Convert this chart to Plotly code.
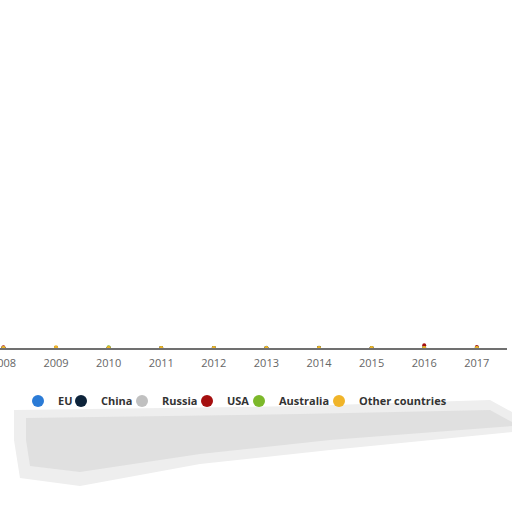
import plotly.graph_objects as go

# years along the x axis
years = [2008, 2009, 2010, 2011, 2012, 2013, 2014, 2015, 2016, 2017]

# series values (all sit close to zero on the visible axis)
eu = [0, 0, 0, 0, 0, 0.1, 0, 0, 0, 0]
china = [0, 0, 0, 0, 0, 0, 0.1, 0, 0, 0]
russia = [0, 0, 0, 0, 0, 0, 0, 0, 0, 0]
usa = [0.2, 0, 0, 0, 0, 0, 0, 0, 0.8, 0.3]
australia = [0, 0, 0.2, 0, 0, 0, 0, 0, 0, 0]
other = [0, 0.2, 0, 0, 0, 0, 0, 0, 0, 0]

names = ["EU", "China", "Russia", "USA", "Australia", "Other countries"]
colors = ["#2b7bd6", "#0d233a", "#c0c0c0", "#a50f0f", "#7cb82a", "#f0b429"]
series = [eu, china, russia, usa, australia, other]

# where each legend entry's text starts (pixels from the left)
legend_text_x = [54, 97, 158, 223, 275, 355]

fig = go.Figure()
legends = {}
for i, (name, vals, col) in enumerate(zip(names, series, colors)):
    key = "legend" if i == 0 else f"legend{i + 1}"
    fig.add_trace(go.Scatter(
        x=years, y=vals, name=name, mode="markers",
        marker=dict(color=col, size=4, symbol="circle"),
        cliponaxis=False, legend=key,
    ))
    legends[key] = dict(
        xref="container", yref="container",
        x=(legend_text_x[i] + 4 - 40) / 512, xanchor="left",
        y=1 - 401 / 512, yanchor="middle",
        orientation="h", itemwidth=30, itemsizing="constant", bgcolor="rgba(0,0,0,0)",
        font=dict(family="Open Sans", size=11, color="#333333", weight="bold"),
    )

# pixel helpers for the soft shadow under the legend
W, H_PLOT = 507, 348
def px(x, y):
    return f"{x / W:.4f},{(H_PLOT - y) / H_PLOT:.4f}"

def path(points):
    return "M " + " L ".join(px(x, y) for x, y in points) + " Z"

shadow_outer = path([(14, 410), (300, 406), (490, 400), (512, 412), (512, 432),
                     (330, 450), (200, 464), (80, 486), (20, 478), (14, 440)])
shadow_inner = path([(26, 418), (300, 414), (490, 410), (512, 422), (512, 426),
                     (330, 440), (200, 454), (80, 472), (30, 466), (26, 440)])

fig.update_layout(
    width=512, height=512,
    margin=dict(l=0, r=5, t=0, b=164, autoexpand=False),
    paper_bgcolor="white", plot_bgcolor="white",
    font=dict(family="Open Sans", size=11, color="#666666"),
    showlegend=True,
    xaxis=dict(
        range=[2007.935, 2017.574], tickvals=years, ticktext=[str(y) for y in years],
        showgrid=False, zeroline=False, showline=True, linecolor="#707070", linewidth=2,
        ticks="outside", ticklen=4, tickcolor="rgba(0,0,0,0)", ticklabeloverflow="allow",
        tickfont=dict(family="Open Sans", size=11, color="#666666"),
    ),
    yaxis=dict(range=[0, 100], visible=False, showgrid=False, zeroline=False),
    shapes=[
        dict(type="path", path=shadow_outer, xref="paper", yref="paper",
             fillcolor="#eeeeee", line=dict(width=0), layer="below"),
        dict(type="path", path=shadow_inner, xref="paper", yref="paper",
             fillcolor="#e0e0e0", line=dict(width=0), layer="below"),
    ],
)
fig.update_layout(**legends)

# drop the browser's default page margin so the figure starts at the corner
fig.write_html("out.html", config={"displayModeBar": False},
               post_script="document.body.style.margin = '0';")
